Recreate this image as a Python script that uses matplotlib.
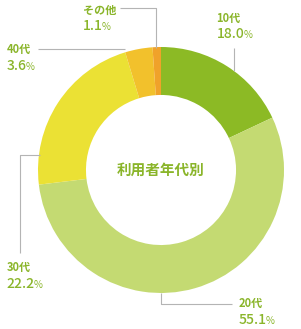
import matplotlib
matplotlib.use("Agg")
from matplotlib import pyplot

pyplot.rcParams['font.family'] = ['Noto Sans CJK JP', 'DejaVu Sans']

# data
groups = ['10代', '20代', '30代', '40代', 'その他']
shares = [18.0, 55.1, 22.2, 3.6, 1.1]
colors = ['#8cba25', '#c4da72', '#ebe134', '#f2c12c', '#f0a22a']
title = '利用者年代別'

W, H = 301, 329
fig = pyplot.figure(figsize=(W / 100, H / 100), dpi=100)
ax = fig.add_axes([0, 0, 1, 1])

cx, cy, r = 161, H - 170, 123
ax.pie(shares, colors=colors, startangle=90, counterclock=False,
       center=(cx, cy), radius=r, frame=True,
       wedgeprops=dict(width=r * 0.39, linewidth=0))
ax.set_xlim(0, W)
ax.set_ylim(0, H)
ax.set_aspect('equal')
ax.axis('off')

txt_col = '#8ab52a'
line_col = '#b4b4b4'
ax.text(cx, cy, title, ha='center', va='center', color=txt_col,
        fontsize=10.5, fontweight='bold')

# leader lines (image coords, y down)
leaders = [
    [(156, 48), (156, 8), (120, 8)],      # その他
    [(234, 71), (234, 48)],               # 10代
    [(125, 49), (38, 49)],                # 40代
    [(40, 155), (20, 155), (20, 253)],    # 30代
    [(161, 293), (161, 304), (232, 304)], # 20代
]
for pts in leaders:
    ax.plot([p[0] for p in pts], [H - p[1] for p in pts], color=line_col,
            lw=0.8, solid_capstyle='butt')

# label positions: x, y of first line centre (image coords)
label_pos = {'10代': (217, 18), '20代': (239, 303), '30代': (7, 267),
             '40代': (7, 49), 'その他': (83, 10)}

fig.canvas.draw()
renderer = fig.canvas.get_renderer()
for g, s in zip(groups, shares):
    x, y = label_pos[g]
    ax.text(x - 0.5, H - y, g, ha='left', va='center', color=txt_col,
            fontsize=8, fontweight='bold')
    t = ax.text(x - 0.5, H - y - 16.5, '%.1f' % s, ha='left', va='center',
                color=txt_col, fontsize=10, fontweight='medium')
    bb = t.get_window_extent(renderer)
    ax.text(bb.x1 - 1, H - y - 17.5, '%', ha='left', va='center',
            color=txt_col, fontsize=7)

fig.savefig('out.png', dpi=100)
